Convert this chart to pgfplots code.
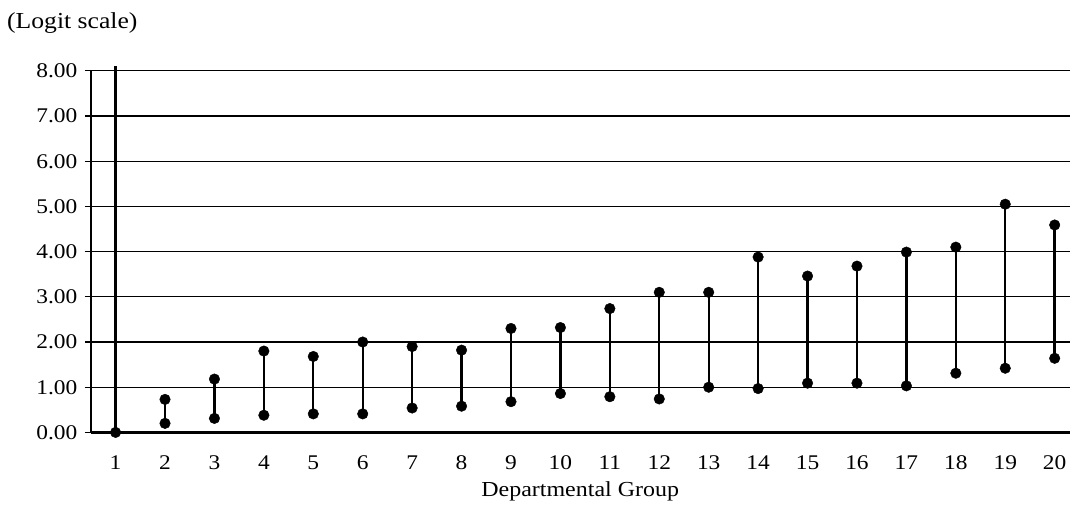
\documentclass[border=0pt]{standalone}
\usepackage{fontspec}
\setmainfont{Liberation Serif}[FakeStretch=1.12]
\usepackage{pgfplots}
\pgfplotsset{compat=1.18}
\usepackage{pgfplotstable}

% endpoints of each departmental group's range (lower, upper), nan separates groups
\pgfplotstableread{
x y
2 0.20
2 0.73
nan nan
3 0.31
3 1.18
nan nan
4 0.38
4 1.80
nan nan
5 0.41
5 1.68
nan nan
6 0.41
6 2.00
nan nan
7 0.54
7 1.90
nan nan
8 0.58
8 1.82
nan nan
9 0.68
9 2.30
nan nan
10 0.86
10 2.32
nan nan
11 0.79
11 2.74
nan nan
12 0.74
12 3.10
nan nan
13 1.00
13 3.10
nan nan
14 0.97
14 3.88
nan nan
15 1.09
15 3.46
nan nan
16 1.09
16 3.68
nan nan
17 1.03
17 3.99
nan nan
18 1.31
18 4.10
nan nan
19 1.42
19 5.05
nan nan
20 1.64
20 4.59
}\segs

\begin{document}
\begin{tikzpicture}
\path (-91bp,-83bp) rectangle (980bp,433bp);
\begin{axis}[
  at={(0,0)}, anchor=south west,
  scale only axis, width=980bp, height=362bp,
  xmin=0.5, xmax=20.3, ymin=0, ymax=8,
  axis lines*=left,
  axis line style={-, black},
  x axis line style={line width=3bp},
  y axis line style={line width=2bp},
  ymajorgrids, grid style={black, line width=1.2bp},
  ytick={0,1,...,8}, xtick={1,2,...,20},
  yticklabel style={/pgf/number format/fixed, /pgf/number format/fixed zerofill, /pgf/number format/precision=2, xshift=-4bp},
  /pgf/number format/assume math mode=true,
  tick align=outside, major tick length=6bp,
  ytick style={line width=1.2bp, black},
  xtick style={draw=none},
  tick label style={font=\fontsize{21}{25}\selectfont, black},
  xticklabel style={yshift=-14bp},
  xlabel={Departmental Group},
  xlabel style={font=\fontsize{21.5}{25}\selectfont, at={(rel axis cs:0.5,0)}, anchor=base, yshift=-64bp},
  clip=false,
]
\addplot[black, line width=3bp, mark=none, forget plot] coordinates {(1,0) (1,8.1)};
\addplot[black, only marks, mark=*, mark size=5.3bp] coordinates {(1,0)};
\addplot[black, line width=2.4bp, mark=*, mark size=5.3bp, mark options={solid, fill=black, line width=0.4bp}, unbounded coords=jump] table {\segs};
\node[anchor=base west, inner sep=0, font=\fontsize{23}{27}\selectfont] at ([xshift=-84bp, yshift=42bp]rel axis cs:0,1) {(Logit scale)};
\end{axis}
\end{tikzpicture}
\end{document}
